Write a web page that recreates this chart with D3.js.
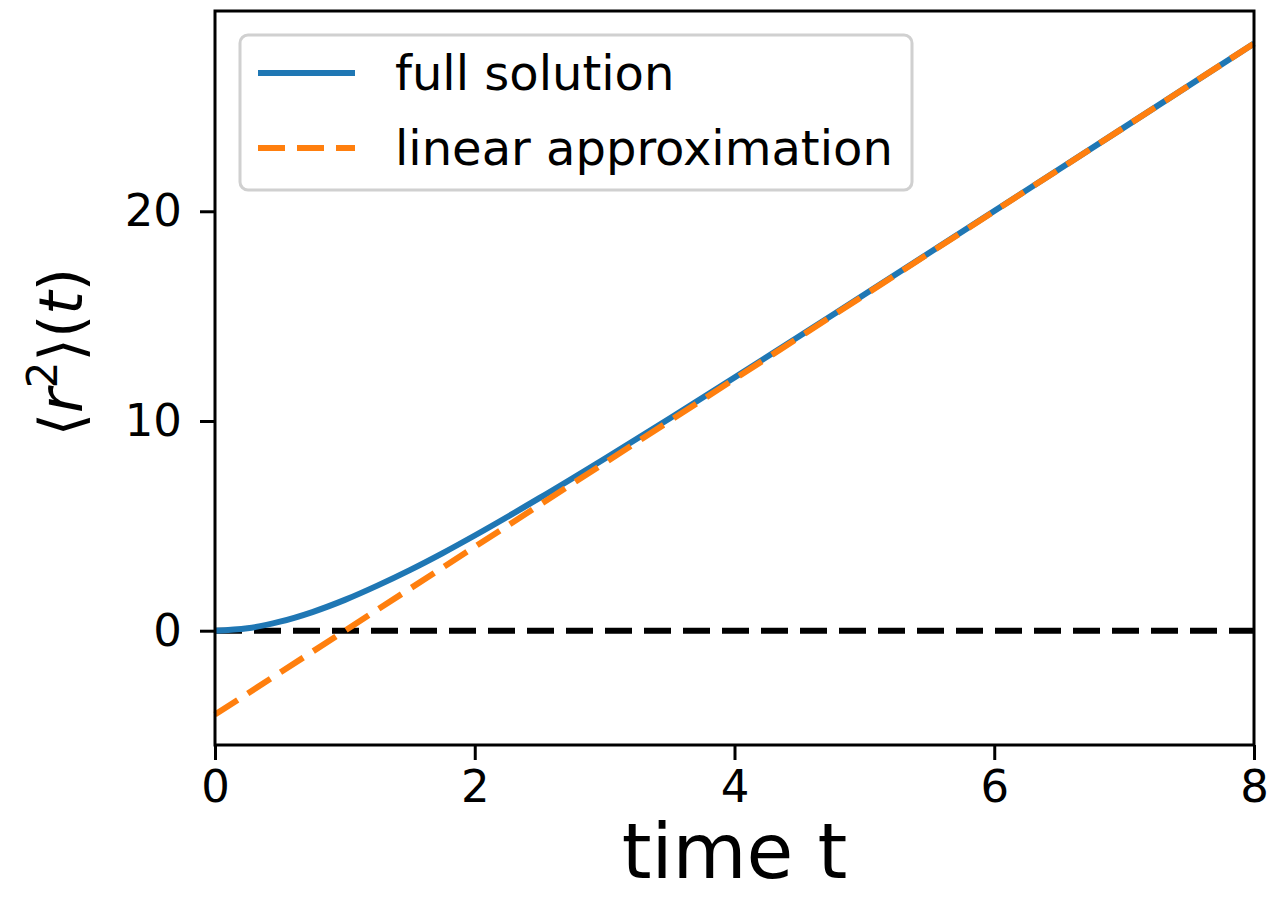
<!DOCTYPE html>
<html>
<head>
<meta charset="utf-8">
<script src="https://cdn.jsdelivr.net/npm/d3@7"></script>
<style>
  body { margin: 0; background: #fff; }
  text { font-family: "DejaVu Sans", sans-serif; }
</style>
</head>
<body>
<div id="viz"></div>
<script>
const W = 1270, H = 911
const margin = { top: 11, right: 16, bottom: 166, left: 215 }
const width = W - margin.left - margin.right
const height = H - margin.top - margin.bottom

// full solution
const fullT = [0, 0.25, 0.5, 0.75, 1, 1.25, 1.5, 1.75, 2, 2.5, 3, 3.5, 4, 5, 6, 7, 8]
const fullR2 = [0, 0.115, 0.43, 0.89, 1.47, 2.15, 2.89, 3.69, 4.54, 6.33, 8.2, 10.12, 12.07, 16.03, 20.01, 24.0, 28.0]
// linear approximation (straight line end points)
const linT = [0, 8]
const linR2 = [-4, 28]
// zero reference
const zeroT = [0, 8]
const zeroR2 = [0, 0]

const xTicks = [0, 2, 4, 6, 8]
const yTicks = [0, 10, 20]
const legendLabels = ["full solution", "linear approximation"]

const colors = { full: "#1f77b4", lin: "#ff7f0e", zero: "#000000" }

const svg = d3.select("#viz").append("svg").attr("width", W).attr("height", H)
const g = svg.append("g").attr("transform", `translate(${margin.left},${margin.top})`)

const x = d3.scaleLinear().domain([0, 8]).range([0, width])
const y = d3.scaleLinear().domain([-5.45, 29.55]).range([height, 0])

const line = d3.line().x(d => x(d[0])).y(d => y(d[1]))

g.append("path")
  .attr("d", line(d3.zip(zeroT, zeroR2)))
  .attr("fill", "none").attr("stroke", colors.zero)
  .attr("stroke-width", 6).attr("stroke-dasharray", "27,12")

g.append("path")
  .attr("d", line.curve(d3.curveMonotoneX)(d3.zip(fullT, fullR2)))
  .attr("fill", "none").attr("stroke", colors.full).attr("stroke-width", 6)

g.append("path")
  .attr("d", line.curve(d3.curveLinear)(d3.zip(linT, linR2)))
  .attr("fill", "none").attr("stroke", colors.lin)
  .attr("stroke-width", 6).attr("stroke-dasharray", "27,12")

// axes
const xAxis = g.append("g").attr("transform", `translate(0,${height})`)
  .call(d3.axisBottom(x).tickValues(xTicks).tickSize(15).tickPadding(10).tickFormat(d3.format("d")))
const yAxis = g.append("g")
  .call(d3.axisLeft(y).tickValues(yTicks).tickSize(15).tickPadding(18).tickFormat(d3.format("d")))
;[xAxis, yAxis].forEach(a => {
  a.select(".domain").remove()
  a.selectAll("line").attr("stroke", "#000").attr("stroke-width", 3)
  a.selectAll("text").attr("font-size", 45).attr("fill", "#000").attr("font-family", "DejaVu Sans")
})

// frame
g.append("rect").attr("width", width).attr("height", height)
  .attr("fill", "none").attr("stroke", "#000").attr("stroke-width", 3)

// axis labels
svg.append("text")
  .attr("x", margin.left + width / 2).attr("y", 878)
  .attr("text-anchor", "middle").attr("font-size", 76)
  .text("time t")

const yl = svg.append("text")
  .attr("transform", `translate(82,352) rotate(-90)`)
  .attr("text-anchor", "middle").attr("font-size", 60)
yl.append("tspan").text("⟨")
yl.append("tspan").attr("font-style", "italic").text("r")
yl.append("tspan").attr("font-size", 42).attr("dy", -25).text("2")
yl.append("tspan").attr("dy", 25).text("⟩(")
yl.append("tspan").attr("font-style", "italic").text("t")
yl.append("tspan").text(")")

// legend
const leg = g.append("g").attr("transform", "translate(25,24)")
leg.append("rect").attr("width", 672).attr("height", 155).attr("rx", 8)
  .attr("fill", "#fff").attr("fill-opacity", 0.8)
  .attr("stroke", "#d0d0d0").attr("stroke-width", 3)
const legColors = [colors.full, colors.lin]
const legDash = [null, "27,12"]
legendLabels.forEach((lab, i) => {
  const ly = 38 + i * 75
  leg.append("line").attr("x1", 18).attr("x2", 115).attr("y1", ly).attr("y2", ly)
    .attr("stroke", legColors[i]).attr("stroke-width", 6)
    .attr("stroke-dasharray", legDash[i])
  leg.append("text").attr("x", 155).attr("y", ly).attr("dy", "0.35em")
    .attr("font-size", 48).text(lab)
})
</script>
</body>
</html>
